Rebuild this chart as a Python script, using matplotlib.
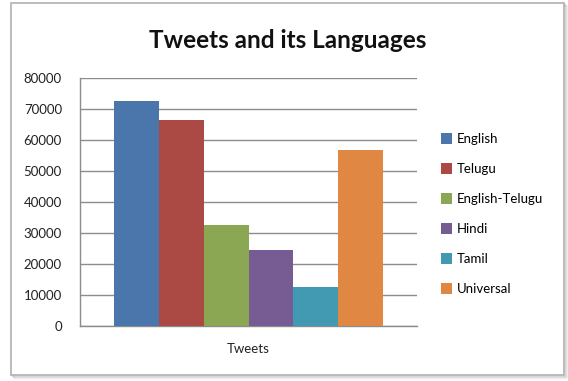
"""Tweets and its Languages - clustered column chart."""

import matplotlib.pyplot as plt
from matplotlib.patches import Rectangle
import numpy as np

plt.rcParams['font.family'] = ['Lato', 'DejaVu Sans']

languages = ['English', 'Telugu', 'English-Telugu', 'Hindi', 'Tamil', 'Universal']
tweets = [72500, 66300, 32500, 24400, 12700, 56700]
category = 'Tweets'
colors = ['#4A76AB', '#AB4945', '#8CA753', '#775B93', '#419AB2', '#DF8743']

W, H = 568, 381
fig = plt.figure(figsize=(W / 100, H / 100), dpi=100)

# outer chart frame with a soft shadow
for off, alpha in [(3, 0.10), (2, 0.18), (1, 0.28)]:
    fig.patches.append(Rectangle(((11 + off) / W, 1 - (375 + off) / H),
                                 553 / W, 372 / H, transform=fig.transFigure,
                                 facecolor='none', edgecolor='#7f7f7f',
                                 linewidth=1, alpha=alpha, zorder=-2))
fig.patches.append(Rectangle((11 / W, 1 - 375 / H), 553 / W, 372 / H,
                             transform=fig.transFigure, facecolor='white',
                             edgecolor='#b0b0b0', linewidth=1.2, zorder=-1))

ax = fig.add_axes([80 / W, 1 - 326 / H, 337 / W, 248 / H])
ax.set_zorder(2)
ax.set_facecolor('none')

n = len(languages)
group = 0.8
w = group / n
x = -group / 2 + w / 2 + np.arange(n) * w
for xi, val, col, lab in zip(x, tweets, colors, languages):
    ax.bar(xi, val, width=w, color=col, label=lab, zorder=3)

ax.set_xlim(-0.5, 0.5)
ax.set_ylim(0, 80000)
ax.set_yticks(np.arange(0, 80001, 10000))
ax.set_xticks([0])
ax.set_xticklabels([category])
ax.tick_params(axis='y', length=0, pad=13, labelsize=9.5, labelcolor='#222222')
ax.tick_params(axis='x', length=0, pad=12, labelsize=9.5, labelcolor='#222222')
ax.grid(axis='y', color='#8c8c8c', linewidth=1.0, zorder=0)
for side in ['top', 'right']:
    ax.spines[side].set_visible(False)
for side in ['left', 'bottom']:
    ax.spines[side].set_color('#8c8c8c')
    ax.spines[side].set_linewidth(1.0)

fig.text(288 / W, 1 - 40 / H, 'Tweets and its Languages', ha='center',
         va='center', fontsize=17.5, fontweight='bold', color='#111111')

fig.legend(loc='center left', bbox_to_anchor=(436 / W, 1 - 214 / H),
           frameon=False, fontsize=9.5, handlelength=0.85, handleheight=0.85,
           handletextpad=0.3, labelspacing=1.37, borderaxespad=0)

plt.savefig('out.png', dpi=100)
